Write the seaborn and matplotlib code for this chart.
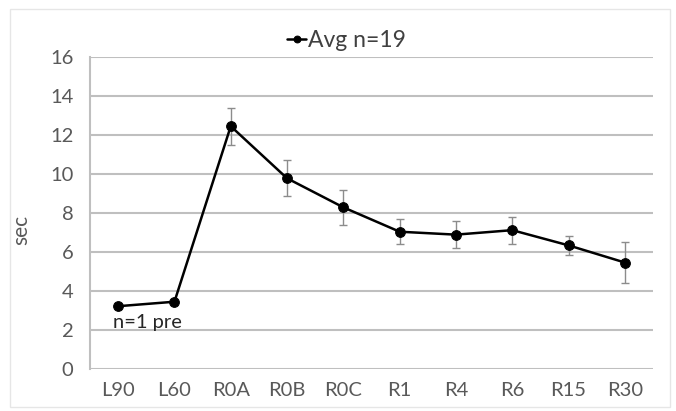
import matplotlib
matplotlib.use("Agg")
import matplotlib.pyplot as plt
import seaborn as sns
import pandas as pd
import numpy as np
from matplotlib.patches import Rectangle

categories = ["L90", "L60", "R0A", "R0B", "R0C", "R1", "R4", "R6", "R15", "R30"]
avg = [3.22, 3.45, 12.45, 9.78, 8.29, 7.04, 6.89, 7.12, 6.34, 5.46]
err = [0.0, 0.0, 0.95, 0.92, 0.9, 0.64, 0.69, 0.7, 0.5, 1.03]
yticks = [0, 2, 4, 6, 8, 10, 12, 14, 16]

sns.set_style("white")
plt.rcParams['font.family'] = ['Lato', 'DejaVu Sans']

df = pd.DataFrame({"cat": categories, "avg": avg, "err": err})
df["x"] = np.arange(len(categories))

fig = plt.figure(figsize=(6.76, 4.11), dpi=100)
ax = fig.add_axes([90/676, 42/411, 563/676, 312/411])

text_col = "#595959"
grid_col = "#bfbfbf"
fs = 14.5

# error bars (gray)
ax.errorbar(df["x"][2:], df["avg"][2:], yerr=df["err"][2:], fmt="none",
            ecolor="#8c8c8c", elinewidth=1.0, capsize=3, capthick=1.0, zorder=2)

sns.lineplot(data=df, x="x", y="avg", ax=ax, color="black", linewidth=1.8,
             marker="o", markersize=7, markeredgecolor="black",
             markerfacecolor="black", label="Avg n=19", zorder=3, legend=False)

ax.set_xlim(-0.5, len(categories) - 0.5)
ax.set_ylim(0, 16)
ax.set_yticks(yticks)
ax.set_yticklabels([str(t) for t in yticks], fontsize=fs, color=text_col)
ax.set_xticks(df["x"])
ax.set_xticklabels(categories, fontsize=fs, color=text_col)
ax.tick_params(axis="x", length=0, pad=9)
ax.tick_params(axis="y", length=6, width=1.5, color=grid_col, pad=6, direction="out")
ax.yaxis.grid(True, color=grid_col, linewidth=1.5)
ax.set_axisbelow(True)
for s in ["top", "right", "bottom"]:
    ax.spines[s].set_visible(False)
ax.spines["left"].set_color(grid_col)
ax.spines["left"].set_linewidth(1.5)
ax.set_xlabel("")
ax.set_ylabel("sec", fontsize=15, color=text_col)
ax.yaxis.set_label_coords(-0.105, 0.445)

ax.text(-0.1, 2.4, "n=1 pre", fontsize=fs, color="#262626", ha="left", va="center")

handles, labels = ax.get_legend_handles_labels()
leg = ax.legend(handles, labels, loc="lower center", bbox_to_anchor=(0.455, 0.99),
                frameon=False, fontsize=16.5, handlelength=0.85, handletextpad=0.05,
                borderaxespad=0, markerscale=0.7)
for t in leg.get_texts():
    t.set_color("#404040")

fig.patches.append(Rectangle((10/676, 4/411), 660/676, 398/411, transform=fig.transFigure,
                             fill=False, edgecolor="#e6e6e6", linewidth=1.0))

fig.savefig("out.png", dpi=100)
